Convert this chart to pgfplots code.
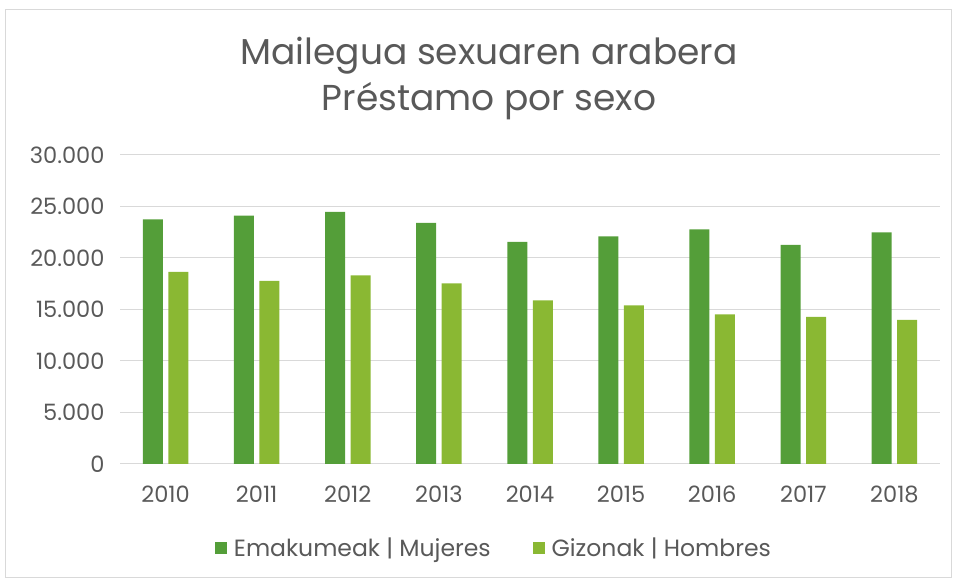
\documentclass[border=0pt]{standalone}
\usepackage{fontspec}
\setmainfont{Poppins}
\usepackage{pgfplots}
\pgfplotsset{compat=1.18}
\definecolor{mujer}{HTML}{549E39}
\definecolor{hombre}{HTML}{8AB833}
\definecolor{txt}{HTML}{595959}
\definecolor{grd}{HTML}{D9D9D9}
\begin{document}
\begin{tikzpicture}[x=1bp,y=1bp]
\useasboundingbox (0,0) rectangle (956,580);
\draw[grd, line width=1bp] (5,2) rectangle (951,570);
\node[txt, font=\fontsize{36bp}{40bp}\selectfont] at (489,524) {Mailegua sexuaren arabera};
\node[txt, font=\fontsize{36bp}{40bp}\selectfont] at (489,479) {Préstamo por sexo};
\begin{axis}[
  at={(120bp,116bp)}, anchor=south west,
  scale only axis, width=820bp, height=309bp,
  ybar=5.5bp, bar width=20bp,
  xmin=-0.5, xmax=8.5, ymin=0, ymax=30000,
  xtick={0,...,8},
  xticklabels={2010,2011,2012,2013,2014,2015,2016,2017,2018},
  ytick={0,5000,...,30000},
  ymajorgrids, major grid style={grd, line width=1bp},
  axis line style={draw=none},
  tick style={draw=none},
  /pgf/number format/.cd, 1000 sep={.}, assume math mode=true, /pgfplots/.cd,
  scaled y ticks=false,
  tick label style={txt, font=\fontsize{22.5bp}{26bp}\selectfont},
  yticklabel style={xshift=-12bp},
  xticklabel style={yshift=-14bp},
  legend style={at={(0.456,-0.272)}, anchor=center, draw=none,
    font=\fontsize{23.5bp}{27bp}\selectfont, text=txt,
    legend columns=2,
    /tikz/every odd column/.append style={column sep=5bp},
    /tikz/every even column/.append style={column sep=40bp}},
  legend image code/.code={\fill[#1] (0bp,-6bp) rectangle (12bp,6bp);},
]
\addplot[fill=mujer, draw=none] coordinates {
  (0,23757) (1,24107) (2,24466) (3,23398) (4,21553) (5,22104) (6,22783) (7,21262) (8,22492)};
\addlegendentry{Emakumeak | Mujeres}
\addplot[fill=hombre, draw=none] coordinates {
  (0,18641) (1,17767) (2,18317) (3,17540) (4,15890) (5,15405) (6,14531) (7,14272) (8,13981)};
\addlegendentry{Gizonak | Hombres}
\end{axis}
\end{tikzpicture}
\end{document}
